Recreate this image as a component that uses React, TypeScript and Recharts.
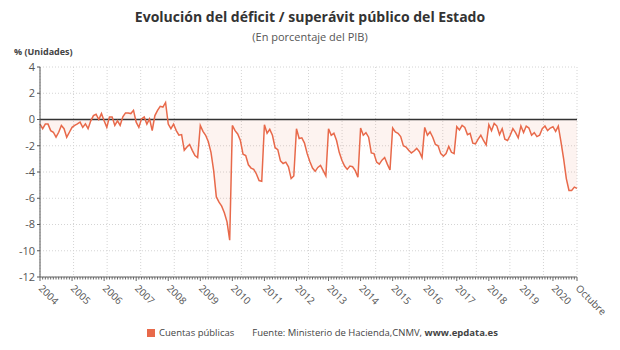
import React from 'react';
import { ComposedChart, Line, Area, XAxis, YAxis, CartesianGrid, ReferenceLine } from 'recharts';

const yearLabels = ['2004','2005','2006','2007','2008','2009','2010','2011','2012','2013','2014','2015','2016','2017','2018','2019','2020'];
const endLabel = 'Octubre';
const yTicks = [-12, -10, -8, -6, -4, -2, 0, 2, 4];

const v2004 = [-0.35, -0.7, -0.35, -0.35, -0.85, -0.97, -1.35, -0.97, -0.45, -0.7, -1.35, -0.97];
const v2005 = [-0.6, -0.45, -0.33, -0.2, -0.6, -0.33, -0.7, -0.1, 0.3, 0.4, 0.0, 0.45];
const v2006 = [-0.1, -0.6, 0.2, 0.2, -0.45, -0.1, -0.45, 0.2, 0.5, 0.5, 0.45, 0.7];
const v2007 = [-0.2, -0.6, 0.05, 0.2, -0.35, 0.05, -0.85, 0.3, 0.7, 1.0, 0.95, 1.3];
const v2008 = [-0.35, -0.7, -0.35, -0.85, -1.2, -1.15, -2.35, -2.1, -1.9, -2.35, -2.75, -2.9];
const v2009 = [-0.45, -0.9, -1.2, -1.7, -2.5, -3.9, -5.9, -6.3, -6.6, -7.1, -7.8, -9.2];
const v2010 = [-0.45, -0.85, -1.1, -1.6, -2.65, -2.75, -3.45, -3.7, -3.8, -4.15, -4.65, -4.7];
const v2011 = [-0.4, -1.05, -0.75, -1.2, -2.15, -2.3, -3.15, -3.35, -3.25, -3.6, -4.5, -4.3];
const v2012 = [-0.7, -1.45, -1.4, -1.8, -2.6, -3.2, -3.7, -3.95, -3.65, -3.5, -3.9, -4.3];
const v2013 = [-0.7, -1.2, -1.05, -1.6, -2.5, -3.1, -3.55, -3.8, -3.55, -3.6, -3.9, -4.4];
const v2014 = [-0.65, -1.2, -1.0, -1.35, -2.55, -2.6, -3.25, -3.4, -3.1, -2.9, -3.4, -3.85];
const v2015 = [-0.65, -0.95, -1.05, -1.3, -2.0, -2.1, -2.35, -2.55, -2.4, -2.2, -2.45, -2.9];
const v2016 = [-0.6, -1.2, -0.95, -1.35, -1.9, -2.0, -2.6, -2.8, -2.6, -2.05, -2.5, -2.6];
const v2017 = [-0.55, -0.8, -0.45, -0.6, -1.15, -1.05, -1.8, -1.85, -1.5, -1.2, -1.6, -1.95];
const v2018 = [-0.4, -0.85, -0.3, -0.5, -1.15, -0.7, -1.5, -1.6, -1.2, -0.7, -1.0, -1.4];
const v2019 = [-0.5, -1.0, -0.5, -0.65, -1.2, -1.0, -1.3, -1.2, -0.7, -0.5, -0.85, -0.65];
const v2020 = [-0.55, -0.9, -0.5, -1.7, -3.0, -4.5, -5.4, -5.4, -5.15, -5.25];

const allValues = [
  ...v2004, ...v2005, ...v2006, ...v2007, ...v2008, ...v2009, ...v2010, ...v2011, ...v2012,
  ...v2013, ...v2014, ...v2015, ...v2016, ...v2017, ...v2018, ...v2019, ...v2020,
];
const data = allValues.map((value, idx) => ({ idx, value }));
const lastIdx = allValues.length - 1;
const monthTicks = allValues.map((_, i) => i);

const labelFor = (idx: number): string | null => {
  if (idx === lastIdx) return endLabel;
  if (idx % 12 === 0) return yearLabels[idx / 12];
  return null;
};

const FONT = '"Open Sans", "Noto Sans", sans-serif';

const MonthTick = (props: any) => {
  const { x, y, payload } = props;
  const idx = payload.value as number;
  const label = labelFor(idx);
  const isYear = label !== null;
  return (
    <g>
      <line x1={x} x2={x} y1={y} y2={y + (isYear ? 4 : 2.5)} stroke="#666" strokeWidth={1} />
      {isYear && (
        <text
          x={x - 2}
          y={y + 12}
          transform={`rotate(45, ${x - 2}, ${y + 12})`}
          textAnchor="start"
          fontSize={10}
          fill="#555"
          fontFamily={FONT}
        >
          {label}
        </text>
      )}
    </g>
  );
};

const vGrid = ({ offset }: any) => {
  const out: number[] = [];
  for (let i = 0; i <= 16; i++) out.push(offset.left + (i * offset.width) / 16);
  return out;
};

export default function App() {
  return (
    <div style={{ position: 'absolute', left: 0, top: 0, width: 620, height: 350, background: '#fff', fontFamily: FONT }}>
      <div style={{ position: 'absolute', left: 0, width: 620, top: 7, textAlign: 'center', fontSize: 14, fontWeight: 700, color: '#333' }}>
        Evolución del déficit / superávit público del Estado
      </div>
      <div style={{ position: 'absolute', left: 0, width: 620, top: 29, textAlign: 'center', fontSize: 11, color: '#555' }}>
        (En porcentaje del PIB)
      </div>
      <div style={{ position: 'absolute', left: 14, top: 46, fontSize: 9, lineHeight: '11px', fontWeight: 700, color: '#444' }}>
        % (Unidades)
      </div>
      <div style={{ position: 'absolute', left: 0, top: 0 }}>
        <ComposedChart width={620} height={350} data={data} margin={{ top: 67, right: 43, bottom: 13, left: 0 }}>
          <CartesianGrid stroke="#d4d4d4" strokeDasharray="1 2" verticalCoordinatesGenerator={vGrid} />
          <XAxis
            dataKey="idx"
            type="number"
            domain={[0, lastIdx]}
            ticks={monthTicks}
            interval={0}
            tick={<MonthTick />}
            tickLine={false}
            tickSize={0}
            tickMargin={0}
            height={60}
            axisLine={{ stroke: '#666' }}
            allowDecimals={false}
          />
          <YAxis
            domain={[-12, 4]}
            ticks={yTicks}
            width={40}
            interval={0}
            axisLine={{ stroke: '#555' }}
            tickLine={{ stroke: '#555' }}
            tickSize={3}
            tick={{ fontSize: 11, fill: '#555', fontFamily: FONT }}
          />
          <Area
            dataKey="value"
            type="linear"
            baseValue={0}
            stroke="none"
            fill="#f08a6c"
            fillOpacity={0.1}
            isAnimationActive={false}
          />
          <ReferenceLine y={0} stroke="#333" strokeWidth={1.5} />
          <Line
            dataKey="value"
            type="linear"
            stroke="#e8694a"
            strokeWidth={1.5}
            dot={false}
            isAnimationActive={false}
          />
        </ComposedChart>
      </div>
      <div style={{ position: 'absolute', top: 326, left: 147, display: 'flex', alignItems: 'center', fontSize: 9.5, color: '#444', whiteSpace: 'nowrap' }}>
        <span style={{ display: 'inline-block', width: 8, height: 8, background: '#e8694a', marginRight: 4 }} />
        <span>Cuentas públicas</span>
        <span style={{ marginLeft: 18 }}>Fuente: Ministerio de Hacienda,CNMV, <b>www.epdata.es</b></span>
      </div>
    </div>
  );
}
